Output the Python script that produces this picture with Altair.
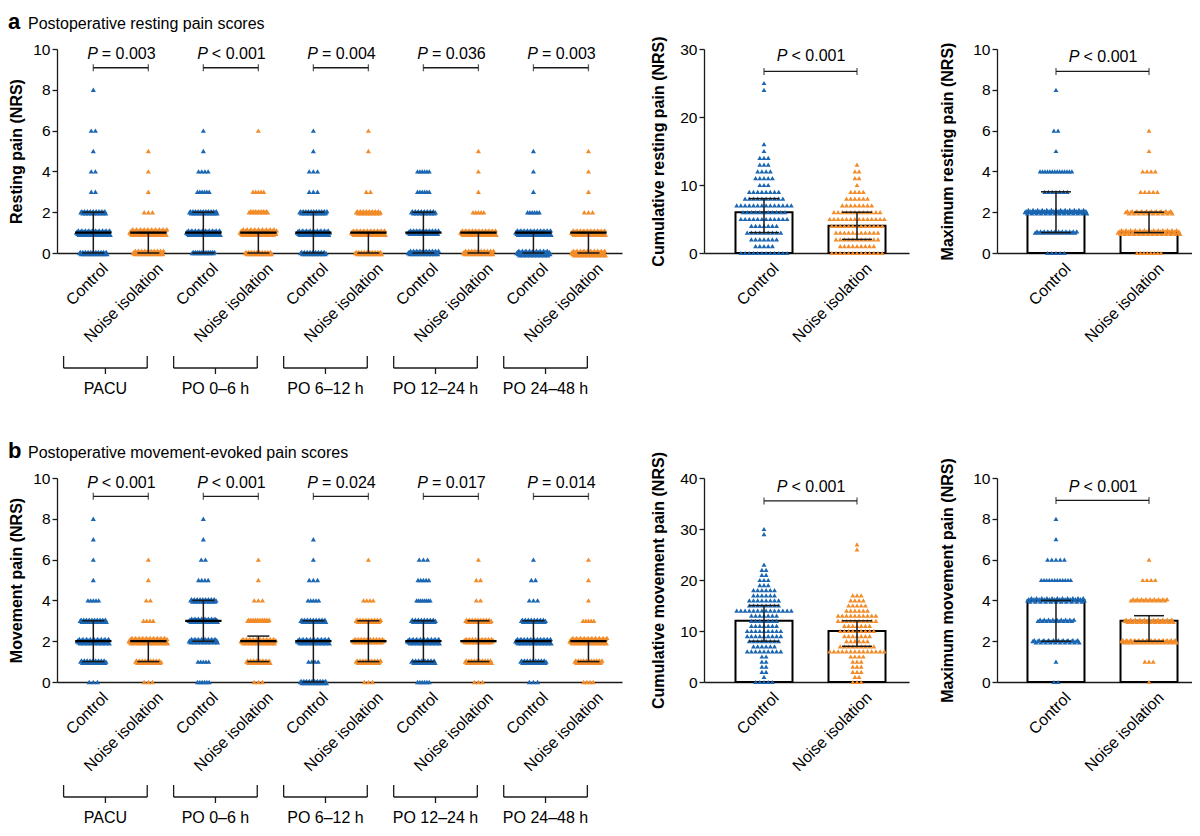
import altair as alt
import numpy as np
import pandas as pd

FONT = "Liberation Sans"
BLUE = "#1b66b2"
ORANGE = "#f28c2a"
INK = "#1a1a1a"
GROUPS = ["Control", "Noise isolation"]
TIMES = ["PACU", "PO 0–6 h", "PO 6–12 h", "PO 12–24 h", "PO 24–48 h"]

# ---- number of patients at NRS 0,1,2,... (pairs: control, noise isolation per time point)
rest_counts = [
    [33, 50, 27, 2, 2, 1, 2, 0, 1],
    [40, 60, 3, 1, 1, 1],
    [22, 50, 33, 6, 4, 1, 1],
    [30, 58, 15, 5, 0, 0, 1],
    [28, 46, 32, 3, 3, 1, 1],
    [30, 50, 25, 2, 0, 1, 1],
    [40, 40, 25, 6, 6],
    [40, 55, 5, 1, 1, 1],
    [48, 55, 6, 1, 1, 1],
    [50, 50, 3, 1, 1, 1],
]
rest_median = [1, 1, 1, 1, 1, 1, 1, 1, 1, 1]
rest_q1 = [0, 0, 0, 0, 0, 0, 0, 0, 0, 0]
rest_q3 = [2, 1, 2, 1, 2, 1, 2, 1, 1, 1]
rest_p = ["= 0.003", "< 0.001", "= 0.004", "= 0.036", "= 0.003"]

move_counts = [
    [3, 28, 45, 30, 5, 1, 1, 1, 1],
    [3, 28, 65, 4, 2, 1, 1],
    [6, 5, 35, 35, 28, 4, 2, 1, 1],
    [3, 24, 52, 20, 3, 1, 1],
    [30, 4, 45, 27, 5, 3, 1, 1],
    [3, 26, 42, 26, 4, 0, 1],
    [6, 24, 45, 25, 8, 5, 3],
    [3, 30, 38, 28, 2, 2, 1],
    [3, 28, 55, 25, 3, 2, 1],
    [4, 32, 60, 5, 1, 1, 1],
]
move_median = [2, 2, 3, 2, 2, 2, 2, 2, 2, 2]
move_q1 = [1, 1, 2, 1, 0, 1, 1, 1, 1, 1]
move_q3 = [3, 2, 4, 2.25, 3, 3, 3, 3, 3, 2]
move_p = ["< 0.001", "< 0.001", "= 0.024", "= 0.017", "= 0.014"]

# cumulative scores (counts at 0,1,2,...)
cum_rest_control = [12, 5, 7, 9, 7, 12, 11, 14, 10, 8, 3, 5, 4, 3, 3, 1, 1, 0, 0, 0, 0, 0, 0, 0, 1, 1]
cum_rest_noise = [13, 9, 11, 11, 13, 14, 12, 8, 6, 4, 1, 2, 2, 1]
cum_rest_median = [6, 4]
cum_rest_q1 = [3, 2]
cum_rest_q3 = [8, 6]

cum_move_control = [5, 1, 2, 2, 2, 2, 9, 6, 8, 9, 9, 7, 7, 7, 14, 8, 8, 6, 6, 3, 3, 2, 2, 1, 0, 0, 0, 0, 0, 1, 1]
cum_move_noise = [3, 2, 3, 3, 3, 4, 14, 9, 6, 7, 9, 7, 10, 10, 6, 5, 4, 3, 0, 0, 0, 0, 0, 0, 0, 0, 1, 1]
cum_move_median = [12, 10]
cum_move_q1 = [8, 7]
cum_move_q3 = [15, 12]

# maximum scores (counts at 0,1,2,...)
max_rest_control = [5, 24, 55, 7, 14, 1, 2, 0, 1]
max_rest_noise = [8, 55, 30, 5, 4, 1, 1]
max_rest_median = [2, 1]
max_rest_q1 = [1, 1]
max_rest_q3 = [3, 2]

max_move_control = [2, 1, 30, 18, 45, 12, 5, 1, 1]
max_move_noise = [1, 3, 42, 33, 18, 4, 1]
max_move_median = [4, 3]
max_move_q1 = [2, 2]
max_move_q3 = [4, 3.25]

# ---- layout constants
H = 204
W_DOT, XR_DOT = 565, [-0.66, 9.61]
W_MID, XR_MID = 205, [-0.645, 1.559]
W_RGT, XR_RGT = 195, [-0.634, 1.462]
STACK = [0, 1, -1, 2, -2, 3, -3]
HEAD_Y = -20


def swarm(pos, counts, ppu, k, cap, group, ypu, per_row, step):
    out = []
    for v, n in enumerate(counts):
        if n <= 0:
            continue
        w = min(4.2 * (n - 1), k * np.sqrt(n), cap)
        offs = np.linspace(-w / 2, w / 2, n) if n > 1 else np.array([0.0])
        rows = int(np.ceil(n / per_row))
        for i, o in enumerate(offs):
            r = STACK[min(i % rows, len(STACK) - 1)]
            out.append({"x": pos + o / ppu, "y": v + r * step / ypu, "group": group})
    return out


def y_axis(values, title, pad):
    return alt.Axis(values=values, title=title, titlePadding=pad, format="d")


def x_axis(values):
    return alt.Axis(values=values, title=None,
                    labelExpr="datum.value % 2 == 0 ? 'Control' : 'Noise isolation'")


def color_enc():
    return alt.Color("group:N", scale=alt.Scale(domain=GROUPS, range=[BLUE, ORANGE]), legend=None)


def sig_layers(X, Y, br):
    return [
        alt.Chart(br).mark_rule(color=INK, strokeWidth=1.3).encode(x=X("c0:Q"), x2="c1:Q", y=Y("yb:Q")),
        alt.Chart(br).mark_tick(color=INK, orient="vertical", size=7, thickness=1.3).encode(x=X("c0:Q"), y=Y("yb:Q")),
        alt.Chart(br).mark_tick(color=INK, orient="vertical", size=7, thickness=1.3).encode(x=X("c1:Q"), y=Y("yb:Q")),
        alt.Chart(br).mark_text(text="P", fontStyle="italic", fontSize=16, align="right", dx=-23,
                                baseline="middle", color="#000").encode(x=X("mid:Q"), y=Y("yt:Q")),
        alt.Chart(br).mark_text(fontSize=16, align="left", dx=-19, baseline="middle", color="#000")
        .encode(x=X("mid:Q"), y=Y("yt:Q"), text="p:N"),
    ]


def dot_panel(counts, med, q1, q3, pvals, ytitle, p_y, br_y, letter, subtitle):
    ppu = W_DOT / (XR_DOT[1] - XR_DOT[0])
    ypu = H / 10
    pts = []
    for i, c in enumerate(counts):
        pts += swarm(i, c, ppu, 4.8, 40, GROUPS[i % 2], ypu, 11, 1.1)
    pts = pd.DataFrame(pts)
    xs = alt.Scale(domain=XR_DOT, nice=False, zero=False)
    ys = alt.Scale(domain=[0, 10], nice=False)
    xa = x_axis(list(range(10)))
    ya = y_axis([0, 2, 4, 6, 8, 10], ytitle, 8)

    def X(f):
        return alt.X(f, scale=xs, axis=xa)

    def Y(f):
        return alt.Y(f, scale=ys, axis=ya)

    pos = np.arange(10)
    st = pd.DataFrame({"pos": pos, "med": med, "q1": q1, "q3": q3,
                       "ml": pos - 0.33, "mr": pos + 0.33,
                       "cl": pos - 0.2, "cr": pos + 0.2})
    j = np.arange(5)
    br = pd.DataFrame({"c0": 2 * j, "c1": 2 * j + 1, "mid": 2 * j + 0.5, "p": pvals,
                       "yb": br_y, "yt": p_y})
    bc = 2 * j + 0.5 - 0.28
    grp = pd.DataFrame({"bc": bc, "bl": bc - 0.76, "br": bc + 0.76, "lab": TIMES})
    ttl = pd.DataFrame({"letter": [letter], "sub": [subtitle]})

    layers = [
        alt.Chart(pts).mark_point(shape="triangle-up", filled=True, size=26, opacity=1, strokeWidth=0)
        .encode(x=X("x:Q"), y=Y("y:Q"), color=color_enc()),
        alt.Chart(st).mark_rule(color=INK, strokeWidth=1.5).encode(x=X("pos:Q"), y=Y("q1:Q"), y2="q3:Q"),
        alt.Chart(st).mark_rule(color=INK, strokeWidth=1.5).encode(x=X("cl:Q"), x2="cr:Q", y=Y("q1:Q")),
        alt.Chart(st).mark_rule(color=INK, strokeWidth=1.5).encode(x=X("cl:Q"), x2="cr:Q", y=Y("q3:Q")),
        alt.Chart(st).mark_rule(color="#000", strokeWidth=2.2).encode(x=X("ml:Q"), x2="mr:Q", y=Y("med:Q")),
    ] + sig_layers(X, Y, br) + [
        # time-point brackets below the axis
        alt.Chart(grp).mark_rule(color=INK, strokeWidth=1.3).encode(x=X("bl:Q"), x2="br:Q", y=alt.value(H + 115)),
        alt.Chart(grp).mark_rule(color=INK, strokeWidth=1.3).encode(x=X("bl:Q"), y=alt.value(H + 103), y2=alt.value(H + 115)),
        alt.Chart(grp).mark_rule(color=INK, strokeWidth=1.3).encode(x=X("br:Q"), y=alt.value(H + 103), y2=alt.value(H + 115)),
        alt.Chart(grp).mark_rule(color=INK, strokeWidth=1.3).encode(x=X("bc:Q"), y=alt.value(H + 115), y2=alt.value(H + 121)),
        alt.Chart(grp).mark_text(fontSize=16, baseline="middle", color="#000")
        .encode(x=X("bc:Q"), y=alt.value(H + 136), text="lab:N"),
        # panel heading
        alt.Chart(ttl).mark_text(fontSize=22, fontWeight="bold", align="left", baseline="alphabetic", color="#000")
        .encode(x=alt.value(-49), y=alt.value(HEAD_Y), text="letter:N"),
        alt.Chart(ttl).mark_text(fontSize=16, align="left", baseline="alphabetic", color="#000")
        .encode(x=alt.value(-29), y=alt.value(HEAD_Y), text="sub:N"),
    ]
    return alt.layer(*layers).properties(width=W_DOT, height=H)


def bar_panel(c_counts, n_counts, med, q1, q3, ydom, yvals, ytitle, tpad, p_y, br_y, k, cap, W, XR):
    ppu = W / (XR[1] - XR[0])
    ypu = H / (ydom[1] - ydom[0])
    per_row = 40 if k > 100 else 14
    pts = pd.DataFrame(swarm(0, c_counts, ppu, k, cap, GROUPS[0], ypu, per_row, 1.2)
                       + swarm(1, n_counts, ppu, k, cap, GROUPS[1], ypu, per_row, 1.2))
    xs = alt.Scale(domain=XR, nice=False, zero=False)
    ys = alt.Scale(domain=ydom, nice=False)
    xa = x_axis([0, 1])
    ya = y_axis(yvals, ytitle, tpad)

    def X(f):
        return alt.X(f, scale=xs, axis=xa)

    def Y(f):
        return alt.Y(f, scale=ys, axis=ya)

    pos = np.arange(2)
    hb = 28.5 / ppu
    hc = 15 / ppu
    st = pd.DataFrame({"pos": pos, "med": med, "q1": q1, "q3": q3, "zero": [0, 0],
                       "bl": pos - hb, "br": pos + hb, "cl": pos - hc, "cr": pos + hc})
    br = pd.DataFrame({"c0": [0], "c1": [1], "mid": [0.5], "p": ["< 0.001"], "yb": [br_y], "yt": [p_y]})
    layers = [
        alt.Chart(st).mark_bar(fill="white", stroke="#000", strokeWidth=2)
        .encode(x=X("bl:Q"), x2="br:Q", y=Y("med:Q"), y2="zero:Q"),
        alt.Chart(pts).mark_point(shape="triangle-up", filled=True, size=24, opacity=1, strokeWidth=0)
        .encode(x=X("x:Q"), y=Y("y:Q"), color=color_enc()),
        alt.Chart(st).mark_rule(color=INK, strokeWidth=1.5).encode(x=X("pos:Q"), y=Y("q1:Q"), y2="q3:Q"),
        alt.Chart(st).mark_rule(color=INK, strokeWidth=1.5).encode(x=X("cl:Q"), x2="cr:Q", y=Y("q1:Q")),
        alt.Chart(st).mark_rule(color=INK, strokeWidth=1.5).encode(x=X("cl:Q"), x2="cr:Q", y=Y("q3:Q")),
    ] + sig_layers(X, Y, br)
    return alt.layer(*layers).properties(width=W, height=H)


def row(left, mid, right):
    return alt.hconcat(left, alt.hconcat(mid, right, spacing=88, bounds="flush"),
                       spacing=82, bounds="flush")


row_a = row(
    dot_panel(rest_counts, rest_median, rest_q1, rest_q3, rest_p, "Resting pain (NRS)",
              9.75, 9.08, "a", "Postoperative resting pain scores"),
    bar_panel(cum_rest_control, cum_rest_noise, cum_rest_median, cum_rest_q1, cum_rest_q3,
              [0, 30], [0, 10, 20, 30], "Cumulative resting pain (NRS)", 13, 29.0, 26.7,
              1000, 62, W_MID, XR_MID),
    bar_panel(max_rest_control, max_rest_noise, max_rest_median, max_rest_q1, max_rest_q3,
              [0, 10], [0, 2, 4, 6, 8, 10], "Maximum resting pain (NRS)", 17, 9.6, 8.9,
              8.5, 62, W_RGT, XR_RGT),
)
row_b = row(
    dot_panel(move_counts, move_median, move_q1, move_q3, move_p, "Movement pain (NRS)",
              9.77, 9.1, "b", "Postoperative movement-evoked pain scores"),
    bar_panel(cum_move_control, cum_move_noise, cum_move_median, cum_move_q1, cum_move_q3,
              [0, 40], [0, 10, 20, 30, 40], "Cumulative movement pain (NRS)", 13, 38.2, 35.5,
              1000, 62, W_MID, XR_MID),
    bar_panel(max_move_control, max_move_noise, max_move_median, max_move_q1, max_move_q3,
              [0, 10], [0, 2, 4, 6, 8, 10], "Maximum movement pain (NRS)", 17, 9.56, 8.9,
              8.5, 62, W_RGT, XR_RGT),
)

chart = (
    alt.vconcat(row_a, row_b, spacing=H + 225, bounds="flush")
    .properties(padding={"left": 0, "top": 3, "right": 0, "bottom": 0}, background="white")
    .configure(font=FONT)
    .configure_view(stroke=None)
    .configure_axisY(tickSize=5, tickWidth=1.3, domainWidth=1.3, domainColor=INK, tickColor=INK,
                     labelFontSize=15.5, labelColor="#000", labelPadding=2, titleFontSize=16,
                     titleFontWeight="bold", titleColor="#000", grid=False)
    .configure_axisX(ticks=False, domainWidth=1.3, domainColor=INK, labelAngle=315, labelAlign="right",
                     labelBaseline="top", labelFontSize=16, labelColor="#000", labelPadding=7,
                     labelOffset=6, grid=False, labelOverlap=False, labelFlush=False, labelBound=False)
)

chart.save("out.html", embed_options={"renderer": "svg", "actions": False})
